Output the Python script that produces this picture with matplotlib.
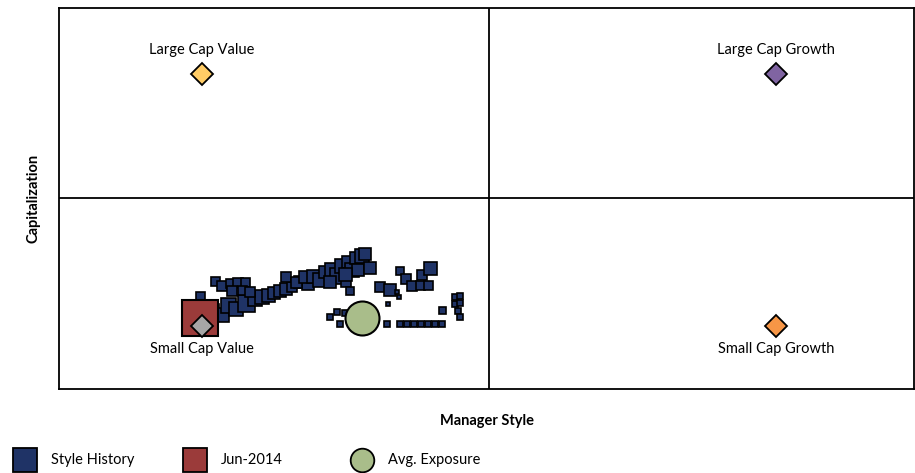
import matplotlib.pyplot as plt
from matplotlib.lines import Line2D

plt.rcParams['font.family'] = ['Lato', 'DejaVu Sans']

# style history (manager style, capitalization) and marker size in px
hist_x = [-0.966, -0.931, -0.910, -0.882, -0.848, -0.816, -0.792, -0.771, -0.750, -0.729,
          -0.708, -0.687, -0.659, -0.631,
          -0.956, -0.931, -0.903, -0.875, -0.851, -0.896, -0.862, -0.834, -1.008,
          -0.708, -0.673, -0.642, -0.614, -0.589, -0.572, -0.548, -0.527, -0.555, -0.513,
          -0.492, -0.478, -0.464, -0.443, -0.433, -0.457, -0.415, -0.499, -0.485, -0.502,
          -0.380, -0.345, -0.310, -0.289, -0.269, -0.241, -0.234, -0.206, -0.213,
          -0.314, -0.321, -0.352, -0.164,
          -0.119, -0.101, -0.119, -0.101, -0.108, -0.101,
          -0.356, -0.310, -0.286, -0.262, -0.237, -0.213, -0.188, -0.164,
          -0.555, -0.530, -0.520, -0.502]
hist_y = [-0.900, -0.931, -0.852, -0.884, -0.837, -0.805, -0.789, -0.773, -0.758, -0.742,
          -0.726, -0.710, -0.663, -0.679,
          -0.655, -0.695, -0.671, -0.671, -0.663, -0.742, -0.734, -0.750, -0.781,
          -0.631, -0.663, -0.631, -0.616, -0.647, -0.584, -0.568, -0.616, -0.663, -0.537,
          -0.505, -0.568, -0.474, -0.458, -0.442, -0.568, -0.552, -0.663, -0.742, -0.600,
          -0.710, -0.734, -0.576, -0.639, -0.702, -0.687, -0.608, -0.552, -0.687,
          -0.789, -0.750, -0.845, -0.892,
          -0.789, -0.781, -0.845, -0.837, -0.900, -0.947,
          -1.002, -1.002, -1.002, -1.002, -1.002, -1.002, -1.002, -1.002,
          -0.947, -0.908, -1.002, -0.916]
hist_size = [14, 14, 15, 14, 17, 14, 14, 13, 12, 12, 12, 10, 12, 12,
             9, 10, 9, 10, 9, 10, 9, 10, 9,
             10, 11, 12, 13, 14, 12, 14, 16, 12, 14, 12, 14, 12, 14, 12, 12, 12, 10, 8, 13,
             10, 12, 8, 10, 10, 9, 10, 13, 9,
             5, 4, 4, 7,
             6, 6, 6, 6, 6, 6,
             6, 6, 6, 6, 6, 6, 6, 6,
             6, 6, 6, 6]

current_x, current_y = -1.008, -0.955
avg_x, avg_y = -0.443, -0.955

bench_names = ['Large Cap Value', 'Large Cap Growth', 'Small Cap Value', 'Small Cap Growth']
bench_x = [-1, 1, -1, 1]
bench_y = [0.985, 0.985, -1.015, -1.015]
bench_colors = ['#FFCC66', '#8064A2', '#A6A6A6', '#F79646']

navy = '#1F3366'
red = '#9B3B3A'
green = '#A9BD8A'
px = 0.72  # points per pixel at dpi 100

fig = plt.figure(figsize=(9.15, 4.73), dpi=100)
ax = fig.add_axes([59 / 915, 1 - 389 / 473, 855 / 915, 381 / 473])
ax.set_xlim(-1.498, 1.481)
ax.set_ylim(-1.516, 1.508)
ax.set_xticks([])
ax.set_yticks([])
for s in ax.spines.values():
    s.set_linewidth(1.3)
ax.axvline(0, color='black', lw=1.3, zorder=1)
ax.axhline(0, color='black', lw=1.3, zorder=1)

for x, y, sz in zip(hist_x, hist_y, hist_size):
    ax.plot(x, y, 's', ms=sz * px, mfc=navy, mec='black', mew=1.2, zorder=3)

ax.plot(current_x, current_y, 's', ms=36 * px, mfc=red, mec='black', mew=1.5, zorder=4)
ax.plot(avg_x, avg_y, 'o', ms=34 * px, mfc=green, mec='black', mew=1.5, zorder=4)

for name, x, y, c in zip(bench_names, bench_x, bench_y, bench_colors):
    ax.plot(x, y, 'D', ms=11, mfc=c, mec='black', mew=1.3, zorder=5)
    off = 24 * px if y > 0 else -23 * px
    ax.annotate(name, (x, y), xytext=(0, off), textcoords='offset points',
                ha='center', va='center', fontsize=10.5)

ax.set_xlabel('Manager Style', fontsize=10.5, fontweight='bold', labelpad=18)
ax.set_ylabel('Capitalization', fontsize=10.5, fontweight='bold', labelpad=13)

# legend along the bottom
leg_y = 1 - 460 / 473
items = [('s', navy, 'Style History', 25), ('s', red, 'Jun-2014', 195),
         ('o', green, 'Avg. Exposure', 362)]
for m, c, label, xpix in items:
    fig.add_artist(Line2D([xpix / 915], [leg_y], marker=m, ms=17, mfc=c, mec='black',
                          mew=1.3, linestyle='none', transform=fig.transFigure))
    fig.text((xpix + 26) / 915, leg_y, label, fontsize=10.5, va='center')

fig.savefig('out.png', dpi=100)
